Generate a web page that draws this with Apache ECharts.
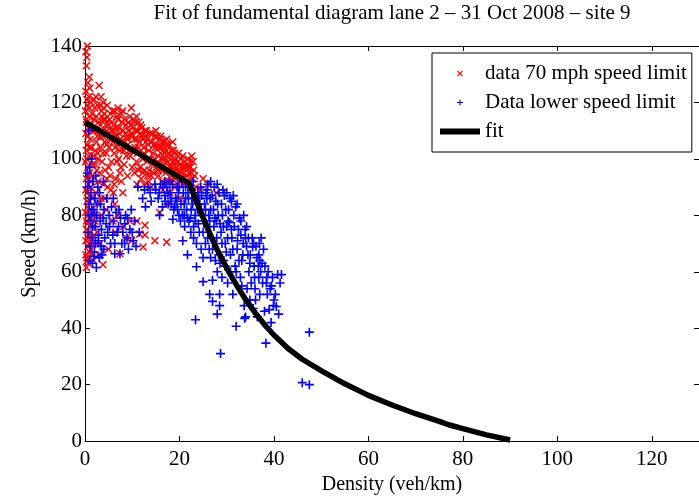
<!DOCTYPE html>
<html><head><meta charset="utf-8">
<script src="https://cdn.jsdelivr.net/npm/echarts@6/dist/echarts.min.js"></script>
<style>html,body{margin:0;padding:0;background:#fff}#c{width:699px;height:500px}</style>
</head><body><div id="c"></div>
<script>
const titleText = 'Fit of fundamental diagram lane 2 – 31 Oct 2008 – site 9';
const xName = 'Density (veh/km)';
const yName = 'Speed (km/h)';
const seriesNames = ['data 70 mph speed limit', 'Data lower speed limit', 'fit'];
const xRange = [0, 130, 20];
const yRange = [0, 140, 20];

// red "x": data with 70 mph speed limit  [density, speed]
const red70 = [
[0.2,138],[0.4,136],[0.3,133],[0.5,140],[0.6,127],[0.2,124],[0.8,122],[0.5,119],[0.1,117],[0.9,115],[0.4,113],[0.7,111],[0.2,109],[1.1,107],[0.5,105],[0.3,103],[0.8,101],[0.1,99],[0.6,97],[1.0,95],[0.3,93],[0.7,91],[0.2,89],[0.9,87],[0.4,85],[0.6,83],[0.1,81],[1.2,79],[0.5,77],[0.3,75],[0.8,73],[0.2,71],[0.6,69],[1.0,67],[0.4,65],[0.7,63],[0.3,61.5],
[1.3,120],[1.5,116],[1.2,112],[1.4,104],[1.6,98],[1.3,92],[1.5,86],[1.1,82],[1.7,76],[1.4,72],[1.2,68],[1.8,64],[0.9,129],[1.0,125],[1.9,121],[2.1,118],[2.4,115],[2.0,110],[2.6,108],[2.2,103],[2.8,100],[2.5,96],[2.3,88],[2.7,84],[2.1,78],[2.4,70],[2.9,66],
[3.0,126],[3.2,112],[3.5,117],[3.8,108],[3.3,104],[3.6,99],[3.9,114],[3.1,95],[3.4,122],[3.7,110],
[4.1,116],[4.4,112],[4.7,119],[4.2,106],[4.9,109],[4.5,102],[5.2,114],[5.5,110],[5.8,117],[5.1,104],[5.6,99],[6.1,112],[6.4,108],[6.7,115],[6.2,102],[6.9,105],[7.2,111],[7.5,107],[7.8,113],[7.1,100],[7.6,97],[4.3,96],[5.3,94],[6.5,93],[7.4,95],[4.8,90],[6.0,88],[8.1,110],[8.4,106],[8.7,112],[8.2,103],[8.9,108],
[9.2,113],[9.5,115],[9.8,109],[9.1,105],[9.6,101],[10.1,111],[10.4,107],[10.7,113],[10.2,103],[10.9,99],[11.2,110],[11.5,106],[11.8,112],[11.1,102],[11.6,97],[12.1,108],[12.4,104],[12.7,110],[12.2,100],[12.9,106],[13.2,107],[13.5,103],[13.8,109],[13.1,99],[13.6,96],[14.1,106],[14.4,102],[14.7,108],[14.2,98],[14.9,104],[9.0,94],[10.5,95],[11.9,93],[12.6,96],[13.3,94],[14.5,95],[9.8,118],[8.0,117],[7.0,118],[10.9,115],
[15.2,105],[15.5,101],[15.8,107],[15.1,97],[15.6,94],[16.1,104],[16.4,100],[16.7,106],[16.2,96],[16.9,102],[17.2,103],[17.5,99],[17.8,105],[17.1,95],[17.6,92],[18.1,101],[18.4,97],[18.7,103],[18.2,94],[18.9,99],[19.2,100],[19.5,96],[19.8,102],[19.1,93],[19.6,91],[20.1,98],[20.4,95],[20.7,101],[20.2,92],[20.9,97],[21.2,99],[21.5,94],[21.8,100],[21.1,91],[22.3,97],[22.6,101],[22.0,95],[23.0,96],[22.8,93],[17.3,107],[18.6,106],[16.0,108],[15.0,110],
[9.5,78],[11.0,78],[12.7,76.5],[11.6,73.4],[12.7,73],[12.3,68.8],[14.8,71],[17.3,70.5],[15.8,81],[17.5,84],[3.8,62.5],[7.4,66.4],[8.8,72],[9.9,71],[5.9,78],[4.5,82],[6.5,74],[3.2,70],[5.0,68],[2.6,74],[3.5,80],[4.2,86],[7.0,80],[8.2,76],[6.3,84],[27.8,88],[26.0,91],[24.5,89],[23.5,90],[20.0,86],[18.0,88],[19.0,90],[16.5,89],[14.0,90],[12.5,91],[25.0,93],[5.5,89],[3.9,91],
[0.4,121],[0.9,118],[0.3,114],[0.6,108],[0.9,104],[0.4,100],[0.7,94],[1.2,90],[0.5,88],[0.8,80],[0.3,78],[1.1,74],[0.6,72],[0.9,70],[0.2,66],[0.5,64],[1.4,66],[1.6,70],[1.9,73],[1.7,80],[1.5,94],[1.8,101],[1.6,110],[1.9,114],[2.3,122],[2.6,119],[2.9,113],[2.4,106],[2.7,102],[2.2,98],[3.3,119],[3.6,115],[3.9,120],[3.2,108],[3.8,102],[4.3,114],[4.6,110],[4.0,118],[4.6,105],[5.0,112],[5.4,116],[5.3,107],[5.7,113],[5.9,106],[6.3,117],[6.0,110],[6.6,111],[6.8,108],[6.4,104],[7.0,114],[7.3,109],[7.7,116],[7.4,103],[7.9,106],[8.3,114],[8.6,109],[8.5,104],[8.8,101],[9.3,110],[9.0,107],[9.7,112],[9.4,103],[10.0,108],[10.3,114],[10.6,104],[10.8,110],[11.0,107],[11.4,113],[11.3,104],[11.7,109],[12.0,111],[12.3,107],[12.5,102],[12.8,108],[13.0,110],[13.4,105],[13.7,100],[13.9,106],[14.3,109],[14.6,105],[14.8,100],[15.3,108],[15.7,104],[15.4,99],[16.0,102],[16.3,106],[16.6,98],[16.8,104],[17.0,100],[17.4,105],[17.7,102],[17.9,97],[18.3,103],[18.5,99],[18.8,96],[19.0,102],[19.3,97],[19.7,99],[19.9,95],[20.3,100],[20.6,97],[20.5,93],[21.0,95],[21.4,97],[21.7,92],[21.9,97],[22.2,99],[22.5,95],[22.9,99],[23.2,94],[10.0,97],[11.3,96],[8.3,98],[6.8,99],[5.0,97],[12.2,95],[14.0,94],[15.5,96],[18.0,92],[16.3,92],[4.6,93],[6.2,91],[7.7,92],[11.0,91],[8.0,88],[13.5,92],[2.8,92],[3.4,86]
];

// blue "+": data with lower speed limit  [density, speed]
const blueLower = [
[0.8,110],[1.0,97],[1.7,92],[0.6,90],[1.3,88],[2.1,86],[0.9,84],[1.8,82],[2.5,80],[1.2,78],[2.2,76],[0.7,74],[1.5,72],[2.8,71],[1.1,69],[2.0,67],[3.0,65],[1.6,63],[2.4,61.5],[3.3,84],[3.8,79],[3.5,75],[4.2,72],[3.1,88],[2.7,90],[4.0,68],[3.6,66],[4.5,77],[5.1,80],[5.6,83],[6.0,78],[6.6,81],[7.1,76],[7.5,79],[8.0,74],[8.4,77],[8.9,72],[6.3,70],[7.4,66.4],[6.3,66.4],[5.4,70],[9.5,75],[10.2,71],[10.8,69],[9.2,68],[11.2,90],[13.3,90],[4.8,74],[5.9,73],[7.8,70],[2.3,94],[1.4,100],[3.9,92],[8.6,80],[9.8,82],[10.5,78],[11.5,74],[12.2,86],[12.8,83],[14.0,85],[1.9,65.5],
[0.5,95],[0.9,92],[1.2,86],[0.8,80],[1.6,76],[2.0,80],[1.4,82],[2.6,84],[3.2,78],[2.9,73],[2.2,70],[1.0,64],[3.4,69],[4.6,86],[5.2,76],[6.8,74],[7.2,82],[8.4,70],[9.0,79],[10.0,74],[6.0,86],[4.0,82],
[15.0,89],[15.5,86],[16.0,91],[16.4,83],[16.9,87],[17.3,90],[15.8,80],
[17.6,84],[18.0,88],[18.6,78.6],[18.8,82],[19.2,86],[19.5,90],[19.9,80],[17.9,92],
[20.3,84],[20.7,71],[20.8,88],[21.1,76],[21.5,82],[21.9,86],[22.2,90],[20.5,92],[21.7,79],[22.4,74],
[22.8,84],[23.1,88],[23.4,78],[23.8,82],[24.1,86],[24.5,90],[24.2,74],[23.6,70],[24.8,80],[22.9,92],
[25.0,65],[25.3,84],[25.6,88],[25.9,76],[26.2,80],[26.5,86],[26.8,72],[27.0,57],[27.2,82],[25.5,70],[26.3,68],[27.4,90],[26.0,91],
[27.8,78],[28.1,84],[28.5,52],[28.5,48],[28.4,88],[28.8,74],[29.1,80],[29.4,64],[29.7,70],[29.5,87],[30.0,76],[28.0,60],[29.0,58],
[30.6,77.5],[30.4,82],[30.8,66],[31.1,72],[31.5,80],[31.8,62],[32.0,40.7],[32.2,68],[32.5,75],[30.2,56],[31.3,52],[31.0,85],
[32.9,58],[33.2,64],[33.5,70],[33.8,43.5],[34.0,44],[34.0,72],[34.3,54],[34.7,60],[33.0,78],[34.5,66],[33.7,48],
[35.5,68.8],[35.2,56],[35.8,62],[36.1,50],[36.4,65],[36.8,58],[37.0,52],[37.0,64],[37.3,72],[35.6,47],[36.5,44],
[38.4,56],[38.3,34.7],[38.0,46],[38.8,60],[39.0,46.6],[39.7,58],[40.3,52],[40.5,47.7],[40.8,59],[41.3,56],[39.4,42],[40.0,50],[41.0,45],[37.8,68],
[21.7,66],[23.6,61.8],[25.0,56.5],[26.4,52],[27.0,49.5],[28.0,45],
[16.5,90],[17.0,85],[17.5,88],[18.3,84],[18.5,91],[19.0,83],[19.4,85],[19.8,88],[20.0,90],[20.2,78],[20.6,80],[21.0,84],[21.3,86],[21.3,90],[21.8,88],[22.0,78],[22.5,82],[22.6,86],[22.6,89],[23.0,76],[23.3,80],[23.5,85],[23.9,88],[24.0,77],[24.3,84],[24.6,82],[24.7,87],[25.0,74],[25.2,78],[25.5,82],[25.8,86],[25.9,89],[26.0,72],[26.4,78],[26.6,82],[26.9,87],[27.0,68],[27.3,76],[27.5,79],[27.7,85],[27.9,72],[28.2,80],[28.3,66],[28.6,77],[28.9,84],[29.0,70],[29.3,76],[29.8,82],[29.9,67],[30.2,72],[30.3,78],[30.7,86],[31.0,75],[31.3,68],[31.6,76],[31.9,83],[32.3,71],[32.6,64],[32.7,79],[33.0,73],[33.4,66],[33.9,75],[34.2,69],[34.6,72],[34.9,63],[35.0,66],[35.4,72],[35.9,58],[36.2,69],[36.7,62],[37.2,60],[37.6,56],[38.1,62],[38.6,52],[39.2,54],[39.9,48],[36.0,54],[34.9,50],[33.2,55],[32.0,60],[30.8,60],[29.7,62],[28.6,63],[27.6,64],[26.6,65],[24.6,68],[23.0,72],[22.3,79],[21.0,80],[19.6,82],[18.2,86],[16.9,92],[15.7,88],[14.8,91],[13.8,88],[12.6,89],[26.6,92],[28.0,91],[29.2,89],[30.0,88],
[36.8,66],[37.5,63],[38.5,58],[39.5,55],[35.7,70],[36.9,70],[34.2,76],[33.6,80],[32.2,84],[31.4,87],
[23.4,43],[28.7,31],[47.5,38.6],[46.0,20.7],[47.5,20],[41.6,59]
];

// fitted fundamental diagram
const fitX = [0, 22, 23, 24, 25, 26, 27, 28, 30, 32, 34, 36, 38, 40, 43, 46, 50, 55, 60, 65, 70, 75, 77, 80, 85, 90];
const fitY = [113, 91.5, 87.5, 83.3, 79.2, 75.2, 71.4, 67.8, 61.3, 55.5, 50.2, 45.5, 41.3, 37.6, 32.8, 29.0, 25.0, 20.3, 16.2, 12.8, 9.7, 7.0, 5.8, 4.4, 2.2, 0.4];

const SERIF = 'Liberation Serif';
const plusPath = 'path://M4.1,0H5.9V4.1H10V5.9H5.9V10H4.1V5.9H0V4.1H4.1Z';
const crossPath = 'path://M0,1.3L1.3,0L5,3.7L8.7,0L10,1.3L6.3,5L10,8.7L8.7,10L5,6.3L1.3,10L0,8.7L3.7,5Z';

const chart = echarts.init(document.getElementById('c'), null, {renderer: 'canvas'});

const axisCommon = {
  type: 'value',
  axisLine: {show: true, onZero: false, lineStyle: {color: '#000', width: 1}},
  axisTick: {show: true, inside: true, length: 5, lineStyle: {color: '#000'}},
  splitLine: {show: false}
};

chart.setOption({
  animation: false,
  backgroundColor: '#fff',
  title: {
    text: titleText, left: 392, top: 3, padding: 0, textAlign: 'center',
    textStyle: {fontFamily: SERIF, fontSize: 21, fontWeight: 'normal', color: '#000'}
  },
  grid: {left: 85, right: -1.5, top: 46, bottom: 54, containLabel: false},
  legend: {
    orient: 'vertical', left: 432, top: 53,
    itemWidth: 40, itemHeight: 6, itemGap: 0,
    padding: [6, 5, 6, 8],
    borderColor: '#000', borderWidth: 1, backgroundColor: '#fff',
    textStyle: {fontFamily: SERIF, fontSize: 21, color: '#000', lineHeight: 29},
    data: [
      {name: seriesNames[0]},
      {name: seriesNames[1]},
      {name: seriesNames[2], icon: 'rect', itemStyle: {color: '#000'}}
    ]
  },
  xAxis: [
    Object.assign({}, axisCommon, {
      position: 'bottom', min: xRange[0], max: xRange[1], interval: xRange[2],
      axisLabel: {fontFamily: SERIF, fontSize: 21, color: '#000', margin: 8, showMaxLabel: false},
      name: xName, nameLocation: 'middle', nameGap: 29,
      nameTextStyle: {fontFamily: SERIF, fontSize: 20, color: '#000'}
    }),
    Object.assign({}, axisCommon, {
      position: 'top', min: xRange[0], max: xRange[1], interval: xRange[2],
      axisLabel: {show: false}
    })
  ],
  yAxis: [
    Object.assign({}, axisCommon, {
      position: 'left', min: yRange[0], max: yRange[1], interval: yRange[2],
      axisLabel: {fontFamily: SERIF, fontSize: 21, color: '#000', margin: 3},
      name: yName, nameLocation: 'middle', nameGap: 39,
      nameTextStyle: {fontFamily: SERIF, fontSize: 20, color: '#000'}
    }),
    Object.assign({}, axisCommon, {
      position: 'right', min: yRange[0], max: yRange[1], interval: yRange[2],
      axisLabel: {show: false}
    })
  ],
  series: [
    {
      name: seriesNames[0], type: 'scatter', data: red70,
      symbol: crossPath, symbolSize: 8,
      itemStyle: {color: '#ff0000', opacity: 1},
      z: 2
    },
    {
      name: seriesNames[1], type: 'scatter', data: blueLower,
      symbol: plusPath, symbolSize: 9,
      itemStyle: {color: '#0000ff', opacity: 1},
      z: 3
    },
    {
      name: seriesNames[2], type: 'line', data: fitX.map((x, i) => [x, fitY[i]]),
      showSymbol: false, symbol: 'none',
      lineStyle: {color: '#000', width: 5.5},
      itemStyle: {color: '#000'},
      z: 4
    }
  ]
});
</script>
</body></html>
